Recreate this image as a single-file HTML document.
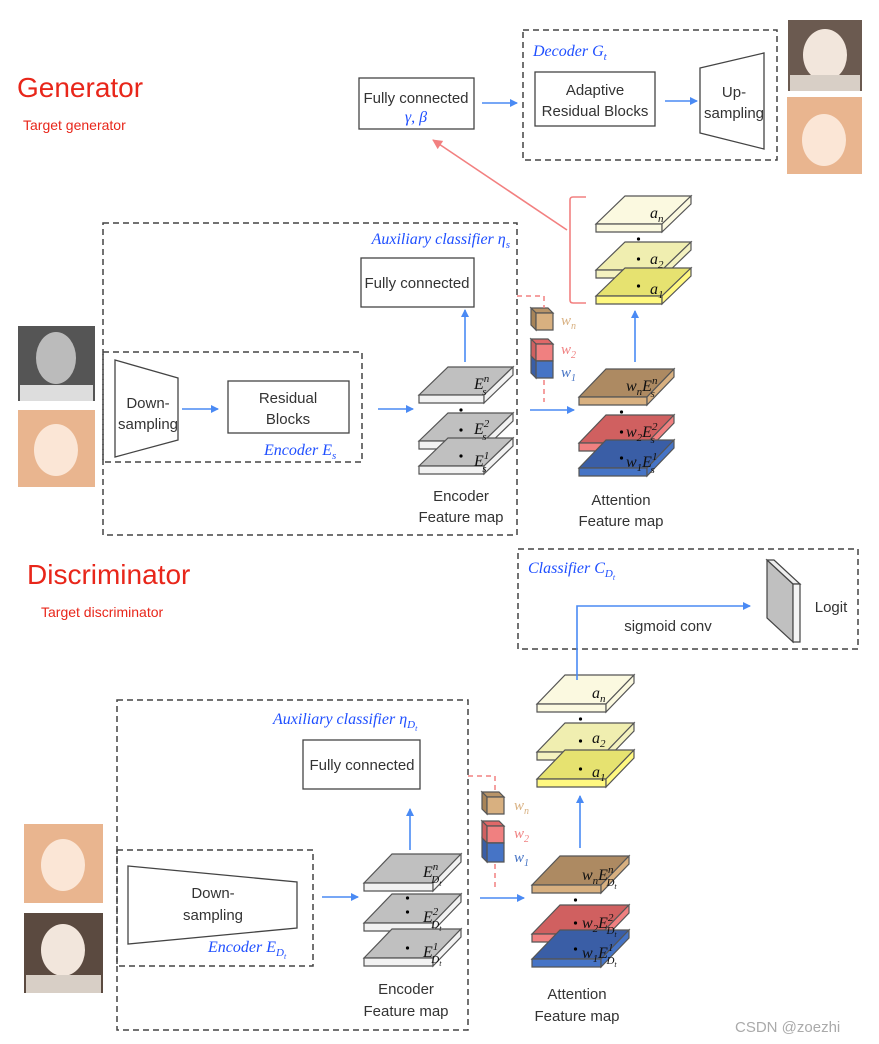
<!DOCTYPE html>
<html><head><meta charset="utf-8">
<style>
html,body{margin:0;padding:0;background:#fff;}
svg{display:block;}
.t{font-family:"Liberation Sans","DejaVu Sans",sans-serif;fill:#333;}
.m{font-family:"Liberation Serif",serif;font-style:italic;}
.b{fill:#1f4fff;}
</style></head>
<body>
<svg id="s" width="879" height="1044" viewBox="0 0 879 1044" xmlns="http://www.w3.org/2000/svg">
<defs>
<marker id="ab" markerWidth="8" markerHeight="8" refX="7" refY="4" orient="auto" markerUnits="userSpaceOnUse"><path d="M0,0 L8,4 L0,8 z" fill="#4a8af4"/></marker>
<marker id="ap" markerWidth="10" markerHeight="10" refX="9" refY="5" orient="auto" markerUnits="userSpaceOnUse"><path d="M0,0 L10,5 L0,10 z" fill="#f28080"/></marker>
</defs>
<g id="slabs"></g>

<!-- Titles -->
<text x="17" y="97" font-family="Liberation Sans,sans-serif" font-size="28" fill="#e8261a">Generator</text>
<text x="23" y="130" font-family="Liberation Sans,sans-serif" font-size="14" fill="#e8261a">Target generator</text>
<text x="27" y="584" font-family="Liberation Sans,sans-serif" font-size="28" fill="#e8261a">Discriminator</text>
<text x="41" y="617" font-family="Liberation Sans,sans-serif" font-size="14" fill="#e8261a">Target discriminator</text>

<!-- photos (approx) -->
<rect x="788" y="20" width="74" height="71" fill="#6b5a50"/><ellipse cx="825" cy="55" rx="22" ry="26" fill="#f2e6dc"/><rect x="790" y="75" width="70" height="16" fill="#d8cfc6"/>
<rect x="787" y="97" width="75" height="77" fill="#e9b58f"/><ellipse cx="824" cy="140" rx="22" ry="26" fill="#fbe6d6"/>
<rect x="18" y="326" width="77" height="75" fill="#555"/><ellipse cx="56" cy="358" rx="20" ry="26" fill="#bbb"/><rect x="20" y="385" width="73" height="16" fill="#ddd"/>
<rect x="18" y="410" width="77" height="77" fill="#e9b58f"/><ellipse cx="56" cy="450" rx="22" ry="26" fill="#fbe6d6"/>
<rect x="24" y="824" width="79" height="79" fill="#e9b58f"/><ellipse cx="63" cy="865" rx="22" ry="26" fill="#fbe6d6"/>
<rect x="24" y="913" width="79" height="80" fill="#5b4a40"/><ellipse cx="63" cy="950" rx="22" ry="26" fill="#f2e6dc"/><rect x="26" y="975" width="75" height="18" fill="#d8cfc6"/>

<!-- dashed boxes -->
<g fill="none" stroke="#444" stroke-width="1.5" stroke-dasharray="6,4">
<rect x="523" y="30" width="254" height="130"/>
<rect x="103" y="223" width="414" height="312"/>
<rect x="103" y="352" width="259" height="110"/>
<rect x="518" y="549" width="340" height="100"/>
<rect x="117" y="700" width="351" height="330"/>
<rect x="117" y="850" width="196" height="116"/>
</g>

<!-- solid boxes -->
<g fill="#fff" stroke="#444" stroke-width="1.3">
<rect x="359" y="78" width="115" height="51"/>
<rect x="535" y="72" width="120" height="54"/>
<polygon points="700,68 764,53 764,149 700,133"/>
<rect x="361" y="258" width="113" height="49"/>
<polygon points="115,360 178,378 178,440 115,457"/>
<rect x="228" y="381" width="121" height="52"/>
<rect x="303" y="740" width="117" height="49"/>
<polygon points="128,866 297,882 297,928 128,944"/>
</g>

<!-- logit panel -->
<polygon points="767,560 793,584 793,642 767,618" fill="#c0c0c0" stroke="#444" stroke-width="1.2"/>
<polygon points="767,560 774,560 800,584 793,584" fill="#eee" stroke="#444" stroke-width="1.2"/>
<polygon points="793,584 800,584 800,642 793,642" fill="#f4f4f4" stroke="#444" stroke-width="1.2"/>

<!-- box text -->
<g class="t" font-size="15" text-anchor="middle">
<text x="416" y="103">Fully connected</text>
<text x="416" y="122" class="m b" font-size="16">γ, β</text>
<text x="595" y="95">Adaptive</text>
<text x="595" y="116">Residual Blocks</text>
<text x="734" y="97">Up-</text>
<text x="734" y="118">sampling</text>
<text x="417" y="288">Fully connected</text>
<text x="148" y="408">Down-</text>
<text x="148" y="429">sampling</text>
<text x="288" y="403">Residual</text>
<text x="288" y="424">Blocks</text>
<text x="461" y="501">Encoder</text>
<text x="461" y="522">Feature map</text>
<text x="621" y="505">Attention</text>
<text x="621" y="526">Feature map</text>
<text x="362" y="770">Fully connected</text>
<text x="213" y="898">Down-</text>
<text x="213" y="920">sampling</text>
<text x="406" y="994">Encoder</text>
<text x="406" y="1016">Feature map</text>
<text x="577" y="999">Attention</text>
<text x="577" y="1021">Feature map</text>
<text x="668" y="631">sigmoid conv</text>
<text x="831" y="612">Logit</text>
</g>

<!-- blue labels -->
<g class="m b" font-size="16">
<text x="533" y="56">Decoder G<tspan font-size="11" dy="4">t</tspan></text>
<text x="510" y="244" text-anchor="end">Auxiliary classifier η<tspan font-size="11" dy="4">s</tspan></text>
<text x="264" y="455">Encoder E<tspan font-size="11" dy="4">s</tspan></text>
<text x="528" y="573">Classifier C<tspan font-size="11" dy="4">D</tspan><tspan font-size="8" dy="3">t</tspan></text>
<text x="273" y="724">Auxiliary classifier η<tspan font-size="11" dy="4">D</tspan><tspan font-size="8" dy="3">t</tspan></text>
<text x="208" y="952">Encoder E<tspan font-size="11" dy="4">D</tspan><tspan font-size="8" dy="3">t</tspan></text>
</g>

<!-- arrows -->
<g stroke="#4a8af4" stroke-width="1.6" fill="none" marker-end="url(#ab)">
<line x1="482" y1="103" x2="517" y2="103"/>
<line x1="665" y1="101" x2="697" y2="101"/>
<line x1="182" y1="409" x2="218" y2="409"/>
<line x1="378" y1="409" x2="413" y2="409"/>
<line x1="465" y1="362" x2="465" y2="310"/>
<line x1="530" y1="410" x2="574" y2="410"/>
<line x1="635" y1="362" x2="635" y2="311"/>
<line x1="322" y1="897" x2="358" y2="897"/>
<line x1="410" y1="850" x2="410" y2="809"/>
<line x1="480" y1="898" x2="524" y2="898"/>
<line x1="580" y1="848" x2="580" y2="796"/>
<polyline points="577,680 577,606 750,606"/>
</g>
<line x1="567" y1="230" x2="433" y2="140" stroke="#f28080" stroke-width="1.6" marker-end="url(#ap)"/>
<path d="M586,197 L573,197 Q570,197 570,200 L570,300 Q570,303 573,303 L586,303" fill="none" stroke="#f28080" stroke-width="1.6"/>
<g stroke="#f28080" stroke-width="1.5" fill="none" stroke-dasharray="5,4">
<polyline points="517,296 544,296 544,308"/>
<line x1="544" y1="380" x2="544" y2="402"/>
<polyline points="468,776 495,776 495,790"/>
<line x1="495" y1="864" x2="495" y2="890"/>
</g>

<!-- slab labels -->
<g class="m" font-size="16" fill="#111">
<text x="474" y="389">E<tspan font-size="11" dy="-7">n</tspan><tspan font-size="11" dx="-7" dy="13">s</tspan></text>
<text x="474" y="434">E<tspan font-size="11" dy="-7">2</tspan><tspan font-size="11" dx="-7" dy="13">s</tspan></text>
<text x="474" y="466">E<tspan font-size="11" dy="-7">1</tspan><tspan font-size="11" dx="-7" dy="13">s</tspan></text>
<text x="626" y="391">w<tspan font-size="11" dy="4">n</tspan><tspan dy="-4">E</tspan><tspan font-size="11" dy="-7">n</tspan><tspan font-size="11" dx="-7" dy="13">s</tspan></text>
<text x="626" y="437">w<tspan font-size="11" dy="4">2</tspan><tspan dy="-4">E</tspan><tspan font-size="11" dy="-7">2</tspan><tspan font-size="11" dx="-7" dy="13">s</tspan></text>
<text x="626" y="467">w<tspan font-size="11" dy="4">1</tspan><tspan dy="-4">E</tspan><tspan font-size="11" dy="-7">1</tspan><tspan font-size="11" dx="-7" dy="13">s</tspan></text>
<text x="650" y="218">a<tspan font-size="11" dy="4">n</tspan></text>
<text x="650" y="264">a<tspan font-size="11" dy="4">2</tspan></text>
<text x="650" y="294">a<tspan font-size="11" dy="4">1</tspan></text>
<text x="423" y="877">E<tspan font-size="11" dy="-7">n</tspan><tspan font-size="11" dx="-7" dy="13">D</tspan><tspan font-size="8" dy="3">t</tspan></text>
<text x="423" y="922">E<tspan font-size="11" dy="-7">2</tspan><tspan font-size="11" dx="-7" dy="13">D</tspan><tspan font-size="8" dy="3">t</tspan></text>
<text x="423" y="957">E<tspan font-size="11" dy="-7">1</tspan><tspan font-size="11" dx="-7" dy="13">D</tspan><tspan font-size="8" dy="3">t</tspan></text>
<text x="582" y="880">w<tspan font-size="11" dy="4">n</tspan><tspan dy="-4">E</tspan><tspan font-size="11" dy="-7">n</tspan><tspan font-size="11" dx="-7" dy="13">D</tspan><tspan font-size="8" dy="3">t</tspan></text>
<text x="582" y="928">w<tspan font-size="11" dy="4">2</tspan><tspan dy="-4">E</tspan><tspan font-size="11" dy="-7">2</tspan><tspan font-size="11" dx="-7" dy="13">D</tspan><tspan font-size="8" dy="3">t</tspan></text>
<text x="582" y="958">w<tspan font-size="11" dy="4">1</tspan><tspan dy="-4">E</tspan><tspan font-size="11" dy="-7">1</tspan><tspan font-size="11" dx="-7" dy="13">D</tspan><tspan font-size="8" dy="3">t</tspan></text>
<text x="592" y="698">a<tspan font-size="11" dy="4">n</tspan></text>
<text x="592" y="743">a<tspan font-size="11" dy="4">2</tspan></text>
<text x="592" y="777">a<tspan font-size="11" dy="4">1</tspan></text>
</g>
<g class="m" font-size="15">
<text x="561" y="325" fill="#d8b080">w<tspan font-size="10" dy="4">n</tspan></text>
<text x="561" y="354" fill="#f08080">w<tspan font-size="10" dy="4">2</tspan></text>
<text x="561" y="377" fill="#4472c4">w<tspan font-size="10" dy="4">1</tspan></text>
<text x="514" y="810" fill="#d8b080">w<tspan font-size="10" dy="4">n</tspan></text>
<text x="514" y="838" fill="#f08080">w<tspan font-size="10" dy="4">2</tspan></text>
<text x="514" y="862" fill="#4472c4">w<tspan font-size="10" dy="4">1</tspan></text>
</g>
<text x="735" y="1032" font-family="Liberation Sans,sans-serif" font-size="15" fill="#aaa">CSDN @zoezhi</text>
</svg>
<script>
(function(){
var g=document.getElementById('slabs'),ns='http://www.w3.org/2000/svg',h='';
function P(pts,f){return '<polygon points="'+pts.map(function(p){return p.join(',')}).join(' ')+'" fill="'+f+'" stroke="#555" stroke-width="1.2"/>';}
function slab(x,yb,w,dx,dy,t,top,front,side){
 var yt=yb-t;
 h+=P([[x,yt],[x+w,yt],[x+w+dx,yt+dy],[x+dx,yt+dy]],top);
 h+=P([[x,yt],[x+w,yt],[x+w,yb],[x,yb]],front);
 h+=P([[x+w,yt],[x+w+dx,yt+dy],[x+w+dx,yb+dy],[x+w,yb]],side);
}
function dot(x,y){h+='<circle cx="'+x+'" cy="'+y+'" r="1.6" fill="#000"/>';}
function stack(x,bs,w,dx,dy,t,cols){
 for(var i=0;i<3;i++){var c=cols[i];slab(x,bs[i],w,dx,dy,t,c[0],c[1],c[2]);}
 var cx=x+w/2+dx/2-5;dot(cx,bs[0]+7);dot(cx,bs[1]-19);dot(cx,bs[2]-18);
}
var G=['#c0c0c0','#f2f2f2','#f2f2f2'];
var A=[['#ad8a62','#d8b080','#d8b080'],['#d06060','#f08080','#f08080'],['#3a5ea6','#4674c6','#4674c6']];
var Y=[['#fbf9e0','#fbf9e0','#fbf9e0'],['#f0eeb0','#f4f2c0','#f4f2c0'],['#e6e270','#fff880','#fff880']];
stack(419,[403,449,474],65,29,-28,8,[G,G,G]);
stack(579,[405,451,476],68,27,-28,8,A);
stack(596,[232,278,304],66,29,-28,8,Y);
stack(364,[891,931,966],69,28,-29,8,[G,G,G]);
stack(532,[893,942,967],69,28,-29,8,A);
stack(537,[712,760,787],69,28,-29,8,Y);
function cube(x,y,s,d,top,front,side){
 h+=P([[x,y],[x+s,y],[x+s+0,y],[x+s-d,y-d],[x-d,y-d]].slice(0,0),top);
 h+=P([[x,y],[x+s,y],[x+s+d*0,y],[x+s,y]],top);
}
function box(x,y,w,hh,d,top,front,side){
 h+=P([[x,y],[x+w,y],[x+w-0,y],[x+w-d+d,y]],top);
 h+=P([[x-d,y-d],[x+w-d,y-d],[x+w,y],[x,y]],top);
 h+=P([[x-d,y-d],[x,y],[x,y+hh],[x-d,y+hh-d]],side);
 h+=P([[x,y],[x+w,y],[x+w,y+hh],[x,y+hh]],front);
}
box(536,313,17,17,5,'#b89468','#d8b080','#a88458');
box(536,344,17,17,5,'#e06868','#f08080','#d06060');
box(536,361,17,17,0,'#4674c6','#4674c6','#3a5ea6');
h+=P([[531,356],[536,361],[536,378],[531,373]],'#3a5ea6');
box(487,797,17,17,5,'#b89468','#d8b080','#a88458');
box(487,826,17,17,5,'#e06868','#f08080','#d06060');
box(487,843,17,19,0,'#4674c6','#4674c6','#3a5ea6');
h+=P([[482,838],[487,843],[487,862],[482,857]],'#3a5ea6');
g.innerHTML=h;
})();
</script>
</body></html>
